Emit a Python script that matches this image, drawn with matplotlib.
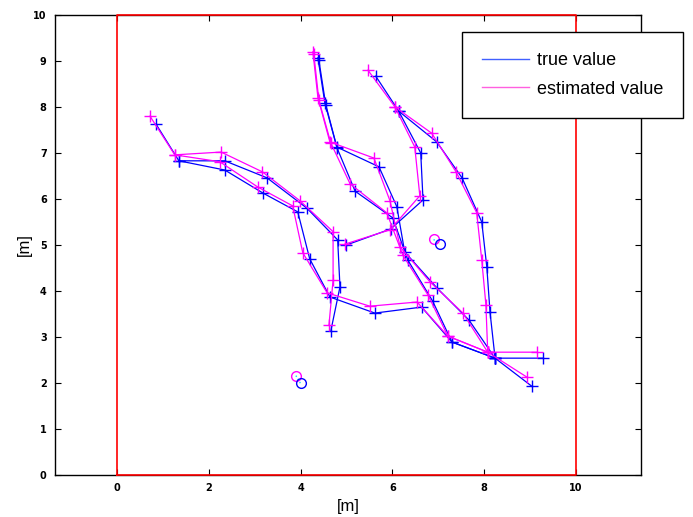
import matplotlib
matplotlib.use("Agg")
import matplotlib.pyplot as plt
from matplotlib.lines import Line2D

# true tracks (blue), in metres
true_tracks = [
    [(0.85, 7.63), (1.35, 6.83), (2.35, 6.83), (3.27, 6.46), (4.14, 5.80),
     (4.81, 5.11), (4.86, 4.09), (4.66, 3.13)],
    [(1.35, 6.83), (2.35, 6.63), (3.18, 6.13), (3.94, 5.72), (4.20, 4.70),
     (4.64, 3.87), (5.62, 3.52), (6.64, 3.65), (7.30, 2.89), (8.24, 2.54),
     (9.28, 2.54)],
    [(4.38, 9.07), (4.53, 8.09), (4.79, 7.13), (5.71, 6.70), (6.10, 5.83),
     (6.27, 4.85), (6.97, 4.07), (7.67, 3.37), (8.24, 2.54), (9.04, 1.93)],
    [(4.40, 9.02), (4.55, 8.05), (4.80, 7.10), (5.19, 6.17), (6.01, 5.59),
     (6.34, 4.67), (6.88, 3.78), (7.30, 2.89), (8.24, 2.54)],
    [(5.00, 5.00), (5.97, 5.35), (6.67, 5.98), (6.62, 7.00), (6.14, 7.91),
     (5.64, 8.67)],
    [(6.14, 7.91), (6.97, 7.24), (7.52, 6.46), (7.95, 5.50), (8.06, 4.52),
     (8.13, 3.54), (8.24, 2.54)],
]

# estimated tracks (magenta)
est_tracks = [
    [(0.72, 7.80), (1.26, 6.96), (2.27, 7.02), (3.17, 6.59), (3.99, 5.96),
     (4.71, 5.29), (4.71, 4.24), (4.62, 3.26)],
    [(1.26, 6.96), (2.24, 6.81), (3.07, 6.26), (3.83, 5.85), (4.05, 4.83),
     (4.58, 3.96), (5.51, 3.67), (6.54, 3.76), (7.21, 3.02), (8.08, 2.67),
     (9.15, 2.67)],
    [(4.27, 9.20), (4.38, 8.20), (4.64, 7.24), (5.60, 6.89), (5.95, 5.96),
     (6.17, 4.96), (6.82, 4.20), (7.54, 3.52), (8.08, 2.67), (8.93, 2.13)],
    [(4.29, 9.15), (4.40, 8.15), (4.66, 7.22), (5.08, 6.33), (5.88, 5.70),
     (6.23, 4.78), (6.78, 3.91), (7.21, 3.02), (8.08, 2.67)],
    [(4.97, 5.02), (5.95, 5.33), (6.60, 6.07), (6.49, 7.13), (6.06, 8.00),
     (5.47, 8.80)],
    [(6.06, 8.00), (6.86, 7.43), (7.39, 6.59), (7.84, 5.70), (7.95, 4.67),
     (8.04, 3.70), (8.08, 2.67)],
]

# static objects: true / estimated position
obj_true = [(4.00, 1.99), (7.03, 5.02)]
obj_est = [(3.90, 2.16), (6.90, 5.12)]

room_x = [0, 10, 10, 0, 0]
room_y = [0, 0, 10, 10, 0]

x_ticks = [0, 2, 4, 6, 8, 10]
y_ticks = [0, 1, 2, 3, 4, 5, 6, 7, 8, 9, 10]

tick_font = dict(family=["Liberation Sans Narrow", "DejaVu Sans"], size=7, weight="bold")


def draw_tracks(ax, tracks, color):
    for tr in tracks:
        xs = [p[0] for p in tr]
        ys = [p[1] for p in tr]
        ax.plot(xs, ys, color=color, lw=0.9, marker="+", ms=8, mew=1.0)


fig = plt.figure(figsize=(6.93, 5.17), dpi=100)
ax = fig.add_axes([55 / 693, 42 / 517, 586 / 693, 460 / 517])

draw_tracks(ax, true_tracks, "#0000ff")
draw_tracks(ax, est_tracks, "#ff00ff")

for (tx, ty), (ex, ey) in zip(obj_true, obj_est):
    ax.plot([ex, tx], [ey, ty], color="#00e0ff", lw=1, ls=":")
    ax.plot(ex, ey, marker="o", ms=7, mfc="none", mec="#ff00ff", mew=1)
    ax.plot(tx, ty, marker="o", ms=7, mfc="none", mec="#0000ff", mew=1)

ax.set_xlim(-1.35, 11.42)
ax.set_ylim(0, 10)
ax.set_xticks(x_ticks)
ax.set_yticks(y_ticks)
ax.set_xticklabels([str(t) for t in x_ticks], fontdict=tick_font)
ax.set_yticklabels([str(t) for t in y_ticks], fontdict=tick_font)
ax.tick_params(direction="in", top=True, right=True, length=4, width=0.8, pad=6)
for s in ax.spines.values():
    s.set_linewidth(1.0)
    s.set_color("black")

# room outline drawn over the spines
ax.plot(room_x, room_y, color="red", lw=1.2, zorder=5, clip_on=False)

ax.set_xlabel("[m]", fontsize=12, family="Liberation Sans", labelpad=4)
ax.set_ylabel("[m]", fontsize=12, family="Liberation Sans", labelpad=1)

handles = [Line2D([], [], color="#4060ff", lw=1),
           Line2D([], [], color="#ff60e0", lw=1)]
leg = fig.legend(handles, ["true value", "estimated value"],
                 loc="upper left", bbox_to_anchor=(462 / 693, 1 - 32 / 517),
                 bbox_transform=fig.transFigure, borderaxespad=0,
                 prop=dict(family="Liberation Sans", size=13),
                 handlelength=2.6, handletextpad=0.45, labelspacing=0.66,
                 borderpad=1.1, fancybox=False, edgecolor="black", framealpha=1)
leg.get_frame().set_linewidth(1.0)

fig.savefig("out.png", dpi=100)
